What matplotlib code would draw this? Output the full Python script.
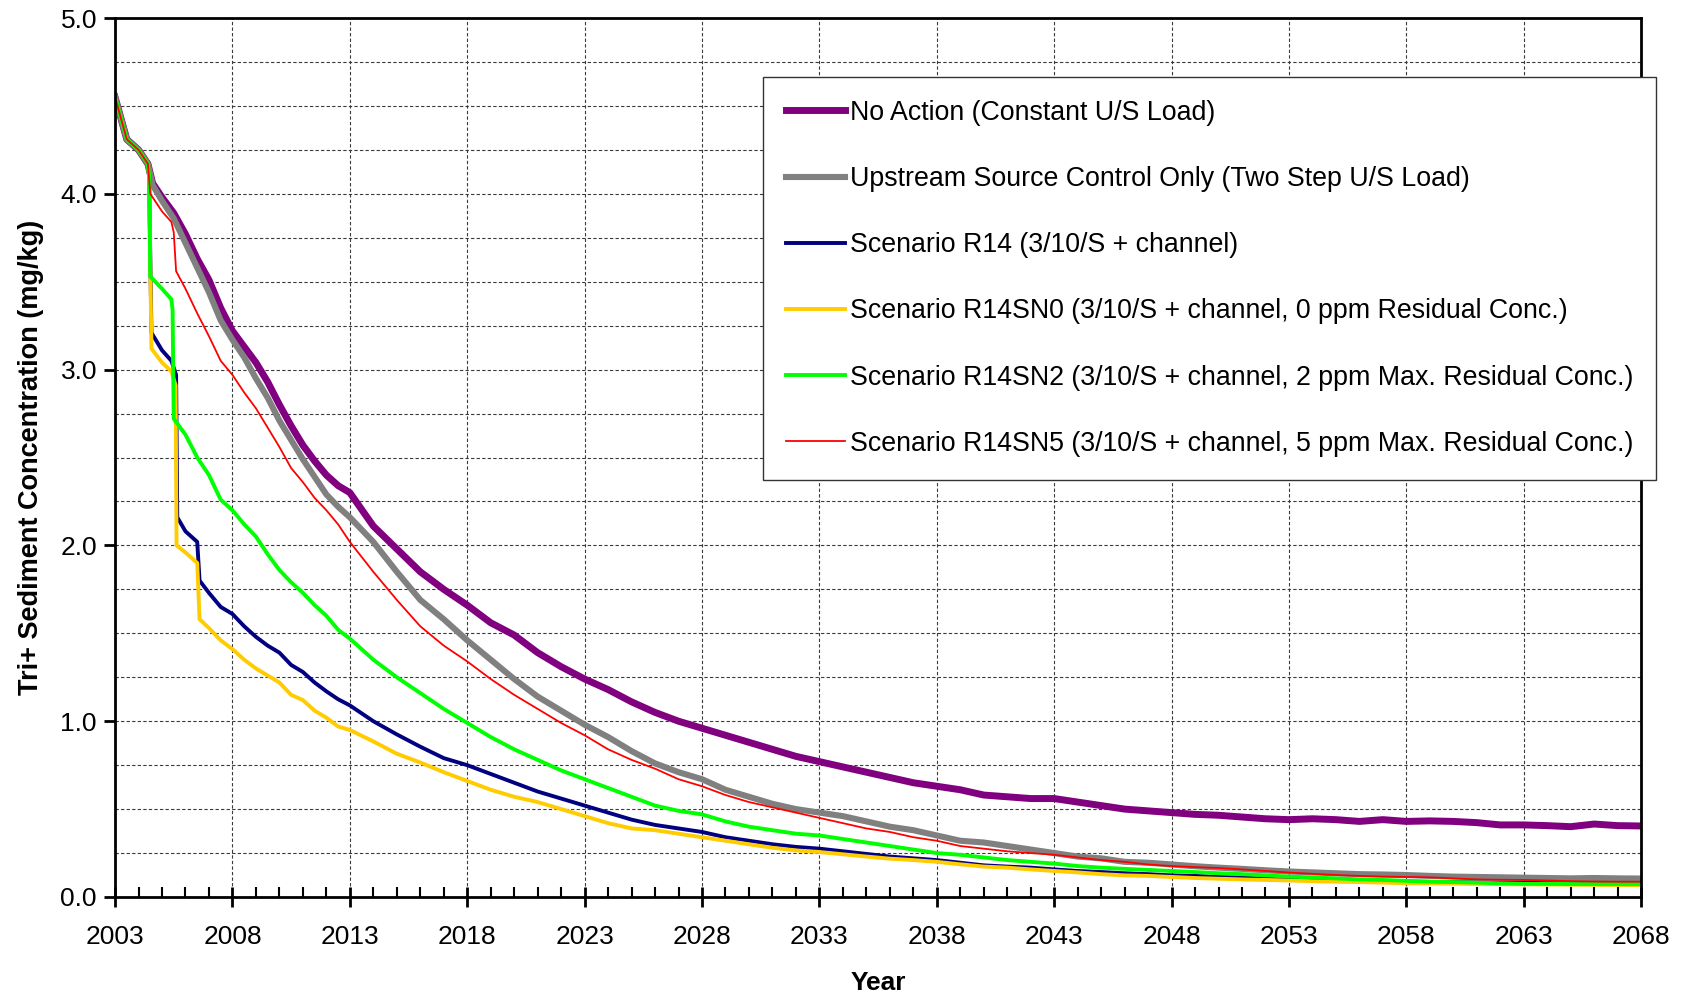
import matplotlib
matplotlib.use("Agg")
import matplotlib.pyplot as plt
from matplotlib.ticker import MultipleLocator

plt.rcParams['font.family'] = ['Liberation Sans', 'DejaVu Sans']

# ---- data (year, Tri+ mg/kg) ----
tail_years = list(range(2013, 2069))

no_action_x = [2003, 2003.5, 2004, 2004.4, 2004.6, 2005, 2005.5, 2006, 2006.5, 2007, 2007.5,
               2008, 2008.5, 2009, 2009.5, 2010, 2010.5, 2011, 2011.5, 2012, 2012.5] + tail_years
no_action_y = [4.55, 4.31, 4.25, 4.17, 4.06, 3.98, 3.89, 3.77, 3.63, 3.51, 3.35,
               3.22, 3.13, 3.04, 2.93, 2.80, 2.68, 2.57, 2.48, 2.40, 2.34,
               2.30, 2.11, 1.98, 1.85, 1.75, 1.66, 1.56, 1.49, 1.39, 1.31,
               1.24, 1.18, 1.11, 1.05, 1.00, 0.96, 0.92, 0.88, 0.84, 0.80,
               0.77, 0.74, 0.71, 0.68, 0.65, 0.63, 0.61, 0.58, 0.57, 0.56,
               0.56, 0.54, 0.52, 0.50, 0.49, 0.48, 0.47, 0.465, 0.455, 0.445,
               0.44, 0.445, 0.44, 0.43, 0.44, 0.43, 0.433, 0.43, 0.423, 0.41,
               0.41, 0.406, 0.40, 0.415, 0.406, 0.404]

upstream_x = [2003, 2003.5, 2004, 2004.4, 2004.6, 2005, 2005.5, 2006, 2006.5, 2007, 2007.5,
              2008, 2008.5, 2009, 2009.5, 2010, 2010.5, 2011, 2011.5, 2012, 2012.5] + tail_years
upstream_y = [4.55, 4.31, 4.25, 4.17, 4.05, 3.96, 3.86, 3.72, 3.58, 3.44, 3.28,
              3.17, 3.07, 2.95, 2.84, 2.71, 2.60, 2.49, 2.39, 2.29, 2.22,
              2.16, 2.02, 1.85, 1.69, 1.58, 1.46, 1.35, 1.24, 1.14, 1.06,
              0.98, 0.91, 0.83, 0.76, 0.71, 0.67, 0.61, 0.57, 0.53, 0.50,
              0.48, 0.46, 0.43, 0.40, 0.38, 0.35, 0.32, 0.31, 0.29, 0.27,
              0.25, 0.23, 0.22, 0.20, 0.195, 0.185, 0.175, 0.167, 0.16, 0.152,
              0.145, 0.14, 0.135, 0.13, 0.128, 0.125, 0.12, 0.116, 0.114, 0.112,
              0.11, 0.108, 0.106, 0.108, 0.106, 0.105]

r14_x = [2003, 2003.5, 2004, 2004.4, 2004.45, 2004.55, 2005, 2005.4, 2005.6, 2005.65,
         2006, 2006.5, 2006.6, 2007, 2007.5, 2008, 2008.5, 2009, 2009.5, 2010, 2010.5,
         2011, 2011.5, 2012, 2012.5] + tail_years
r14_y = [4.55, 4.31, 4.25, 4.17, 4.10, 3.21, 3.11, 3.05, 2.97, 2.16,
         2.08, 2.02, 1.80, 1.73, 1.65, 1.61, 1.54, 1.48, 1.43, 1.39, 1.32,
         1.28, 1.22, 1.17, 1.125,
         1.09, 1.00, 0.925, 0.855, 0.79, 0.75, 0.70, 0.65, 0.60, 0.56,
         0.52, 0.48, 0.44, 0.41, 0.39, 0.37, 0.34, 0.32, 0.30, 0.285,
         0.275, 0.26, 0.245, 0.23, 0.22, 0.21, 0.195, 0.18, 0.173, 0.167,
         0.157, 0.148, 0.142, 0.135, 0.13, 0.123, 0.12, 0.114, 0.11, 0.104,
         0.10, 0.098, 0.097, 0.094, 0.09, 0.087, 0.086, 0.085, 0.083, 0.082,
         0.081, 0.079, 0.077, 0.076, 0.075, 0.074]

sn0_x = [2003, 2003.5, 2004, 2004.4, 2004.45, 2004.55, 2005, 2005.4, 2005.58, 2005.62,
         2006, 2006.5, 2006.6, 2007, 2007.5, 2008, 2008.5, 2009, 2009.5, 2010, 2010.5,
         2011, 2011.5, 2012, 2012.5] + tail_years
sn0_y = [4.55, 4.31, 4.25, 4.17, 4.10, 3.12, 3.04, 2.99, 2.91, 2.00,
         1.96, 1.90, 1.58, 1.53, 1.46, 1.41, 1.35, 1.30, 1.26, 1.22, 1.15,
         1.12, 1.06, 1.02, 0.97,
         0.95, 0.885, 0.815, 0.765, 0.71, 0.66, 0.61, 0.57, 0.54, 0.50,
         0.46, 0.42, 0.39, 0.38, 0.36, 0.34, 0.32, 0.30, 0.28, 0.265,
         0.256, 0.243, 0.23, 0.218, 0.21, 0.20, 0.186, 0.173, 0.167, 0.157,
         0.148, 0.14, 0.13, 0.123, 0.12, 0.114, 0.108, 0.104, 0.10, 0.097,
         0.094, 0.09, 0.087, 0.085, 0.082, 0.078, 0.077, 0.076, 0.074, 0.073,
         0.072, 0.071, 0.070, 0.069, 0.068, 0.068]

sn2_x = [2003, 2003.5, 2004, 2004.4, 2004.45, 2004.5, 2005, 2005.4, 2005.45, 2005.5,
         2006, 2006.5, 2007, 2007.5, 2008, 2008.5, 2009, 2009.5, 2010, 2010.5,
         2011, 2011.5, 2012, 2012.5] + tail_years
sn2_y = [4.55, 4.31, 4.25, 4.17, 4.10, 3.53, 3.46, 3.40, 3.34, 2.72,
         2.63, 2.50, 2.40, 2.26, 2.20, 2.12, 2.05, 1.95, 1.86, 1.79,
         1.73, 1.66, 1.60, 1.52,
         1.47, 1.35, 1.25, 1.16, 1.07, 0.99, 0.91, 0.84, 0.78, 0.72,
         0.67, 0.62, 0.57, 0.52, 0.49, 0.47, 0.43, 0.40, 0.38, 0.36,
         0.35, 0.33, 0.31, 0.29, 0.27, 0.25, 0.24, 0.225, 0.21, 0.20,
         0.19, 0.176, 0.167, 0.16, 0.154, 0.148, 0.142, 0.135, 0.13, 0.123,
         0.116, 0.111, 0.106, 0.10, 0.097, 0.092, 0.087, 0.085, 0.082, 0.078,
         0.075, 0.075, 0.074, 0.074, 0.074, 0.074]

sn5_x = [2003, 2003.5, 2004, 2004.4, 2004.5, 2005, 2005.4, 2005.5, 2005.6,
         2006, 2006.5, 2007, 2007.5, 2008, 2008.5, 2009, 2009.5, 2010, 2010.5,
         2011, 2011.5, 2012, 2012.5] + tail_years
sn5_y = [4.55, 4.31, 4.25, 4.17, 4.00, 3.90, 3.84, 3.78, 3.56,
         3.46, 3.32, 3.19, 3.05, 2.97, 2.87, 2.78, 2.67, 2.56, 2.44,
         2.36, 2.27, 2.20, 2.12,
         2.02, 1.85, 1.69, 1.54, 1.43, 1.34, 1.24, 1.15, 1.07, 0.99,
         0.92, 0.84, 0.78, 0.73, 0.67, 0.63, 0.58, 0.54, 0.51, 0.48,
         0.45, 0.42, 0.39, 0.37, 0.34, 0.32, 0.29, 0.275, 0.26, 0.25,
         0.24, 0.225, 0.21, 0.20, 0.185, 0.176, 0.17, 0.165, 0.157, 0.148,
         0.139, 0.132, 0.125, 0.12, 0.116, 0.114, 0.112, 0.106, 0.10, 0.098,
         0.097, 0.094, 0.09, 0.088, 0.087, 0.087]

year_ticks = list(range(2003, 2069, 5))

labels = ['No Action (Constant U/S Load)',
          'Upstream Source Control Only (Two Step U/S Load)',
          'Scenario R14 (3/10/S + channel)',
          'Scenario R14SN0 (3/10/S + channel, 0 ppm Residual Conc.)',
          'Scenario R14SN2 (3/10/S + channel, 2 ppm Max. Residual Conc.)',
          'Scenario R14SN5 (3/10/S + channel, 5 ppm Max. Residual Conc.)']

series = [(no_action_x, no_action_y, '#800080', 5.0),
          (upstream_x, upstream_y, '#808080', 4.4),
          (r14_x, r14_y, '#000080', 2.8),
          (sn0_x, sn0_y, '#FFCC00', 2.8),
          (sn2_x, sn2_y, '#00FF00', 2.8),
          (sn5_x, sn5_y, '#FF0000', 1.3)]

fig = plt.figure(figsize=(16.82, 9.96), dpi=100)
ax = fig.add_axes([0.0684, 0.0994, 0.9073, 0.8825])

for (xs, ys, c, lw), lab in zip(series, labels):
    ax.plot(xs, ys, color=c, lw=lw, label=lab, solid_joinstyle='round')

ax.set_xlim(2003, 2068)
ax.set_ylim(0, 5)
ax.set_xticks(year_ticks)
ax.xaxis.set_minor_locator(MultipleLocator(1))
ax.yaxis.set_major_locator(MultipleLocator(1))
ax.yaxis.set_minor_locator(MultipleLocator(0.25))
ax.yaxis.set_major_formatter(plt.FormatStrFormatter('%.1f'))

ax.grid(True, which='major', axis='x', color='#3a3a3a', ls=(0, (3, 2)), lw=0.8)
ax.grid(True, which='both', axis='y', color='#3a3a3a', ls=(0, (3, 2)), lw=0.8)
ax.set_axisbelow(True)

ax.tick_params(axis='x', which='major', direction='inout', length=14, width=2, labelsize=19, pad=13)
ax.tick_params(axis='x', which='minor', direction='in', length=7, width=1.5)
ax.tick_params(axis='y', which='major', direction='out', length=8, width=2, labelsize=19, pad=5)
ax.tick_params(axis='y', which='minor', length=0)
for s in ax.spines.values():
    s.set_linewidth(2)
    s.set_color('black')

ax.set_xlabel('Year', fontsize=19, fontweight='bold', labelpad=16)
ax.set_ylabel('Tri+ Sediment Concentration (mg/kg)', fontsize=19.5, fontweight='bold', labelpad=12)

leg = ax.legend(loc='upper left', bbox_to_anchor=(0.4246, 0.933), borderaxespad=0,
                fontsize=19.3, handlelength=2.2, handletextpad=0.2, labelspacing=1.5,
                borderpad=0.85, fancybox=False, framealpha=1)
leg.get_frame().set_edgecolor('#333333')
leg.get_frame().set_linewidth(1.0)

fig.savefig('out.png', dpi=100)
